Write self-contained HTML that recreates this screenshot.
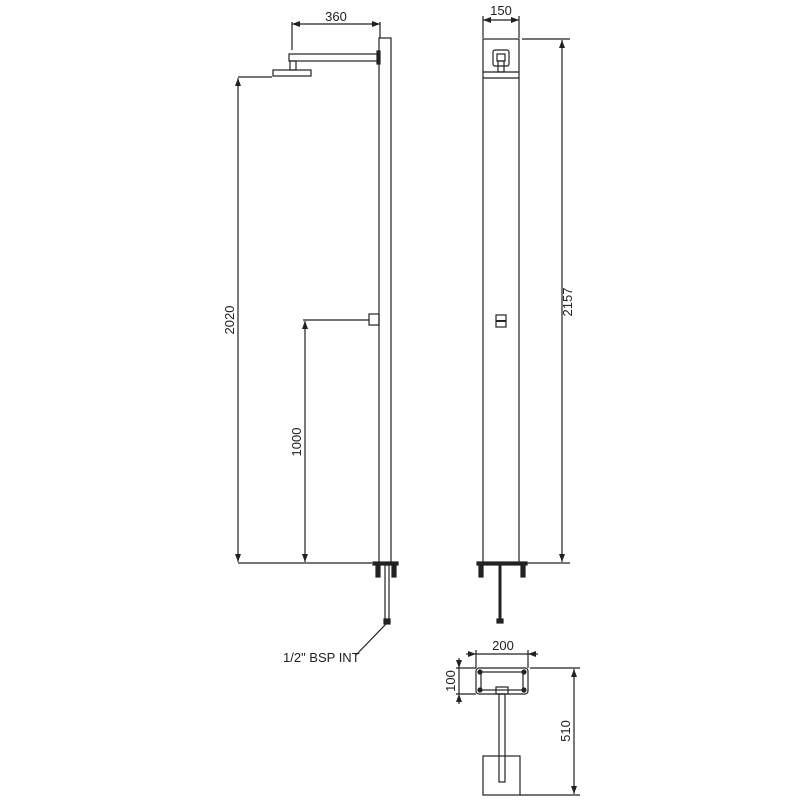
<!DOCTYPE html>
<html><head><style>body{margin:0;background:#fff}svg{display:block}text{font-family:"Liberation Sans",Arial,sans-serif;font-size:13px;fill:#222}</style></head>
<body>
<svg width="800" height="800" viewBox="0 0 800 800" xmlns="http://www.w3.org/2000/svg">
<defs>
<marker id="a" markerWidth="8" markerHeight="6" refX="8" refY="3" orient="auto-start-reverse" markerUnits="userSpaceOnUse"><path d="M0,0 L8,3 L0,6z" fill="#222"/></marker>
</defs>
<g stroke="#222" stroke-width="1.2" fill="none">
<!-- LEFT VIEW -->
<rect x="379" y="38" width="12" height="525"/>
<rect x="289" y="54" width="90" height="7"/>
<rect x="377" y="51" width="3" height="13" fill="#222"/>
<rect x="290" y="61" width="6" height="9"/>
<rect x="273" y="70" width="38" height="6"/>
<rect x="369" y="314" width="10" height="11"/>
<!-- 360 -->
<line x1="292" y1="22" x2="292" y2="50"/>
<line x1="380" y1="22" x2="380" y2="38"/>
<line x1="292" y1="24" x2="380" y2="24" marker-start="url(#a)" marker-end="url(#a)"/>
<!-- 2020 -->
<line x1="238" y1="77" x2="272" y2="77"/>
<line x1="238" y1="563" x2="372" y2="563"/>
<line x1="238" y1="78" x2="238" y2="562" marker-start="url(#a)" marker-end="url(#a)"/>
<!-- 1000 -->
<line x1="303" y1="320" x2="369" y2="320"/>
<line x1="305" y1="321" x2="305" y2="562" marker-start="url(#a)" marker-end="url(#a)"/>
<!-- base left -->
<rect x="373" y="562" width="25" height="3" fill="#222"/>
<rect x="376" y="565" width="4" height="12" fill="#222"/>
<rect x="392" y="565" width="4" height="12" fill="#222"/>
<rect x="385" y="565" width="4" height="55"/>
<rect x="384" y="619" width="6" height="5" fill="#222"/>
<line x1="386" y1="624" x2="356" y2="655"/>
<!-- RIGHT VIEW -->
<rect x="483" y="39" width="36" height="524"/>
<line x1="483" y1="72" x2="519" y2="72"/>
<line x1="483" y1="78" x2="519" y2="78"/>
<rect x="493" y="50" width="16" height="16" rx="2"/>
<rect x="497" y="54" width="8" height="7"/>
<rect x="498" y="61" width="6" height="11"/>
<rect x="496" y="315" width="10" height="12"/>
<line x1="496" y1="321" x2="506" y2="321" stroke-width="2"/>
<!-- 150 -->
<line x1="483" y1="16" x2="483" y2="38"/>
<line x1="519" y1="16" x2="519" y2="38"/>
<line x1="483" y1="20" x2="519" y2="20" marker-start="url(#a)" marker-end="url(#a)"/>
<!-- 2157 -->
<line x1="522" y1="39" x2="570" y2="39"/>
<line x1="526" y1="563" x2="570" y2="563"/>
<line x1="562" y1="40" x2="562" y2="562" marker-start="url(#a)" marker-end="url(#a)"/>
<!-- base right -->
<rect x="477" y="562" width="50" height="3" fill="#222"/>
<rect x="479" y="565" width="4" height="12" fill="#222"/>
<rect x="521" y="565" width="4" height="12" fill="#222"/>
<line x1="500" y1="565" x2="500" y2="620" stroke-width="3"/>
<rect x="497" y="619" width="6" height="4" fill="#222"/>
<!-- PLAN -->
<rect x="476" y="668" width="52" height="26" rx="3"/>
<rect x="481" y="672" width="42" height="18"/>
<circle cx="480" cy="672" r="2" fill="#222"/><circle cx="524" cy="672" r="2" fill="#222"/>
<circle cx="480" cy="690" r="2" fill="#222"/><circle cx="524" cy="690" r="2" fill="#222"/>
<rect x="496" y="687" width="12" height="7"/>
<rect x="499" y="694" width="6" height="88"/>
<rect x="483" y="756" width="37" height="39"/>
<!-- 200 -->
<line x1="476" y1="650" x2="476" y2="668"/>
<line x1="528" y1="650" x2="528" y2="668"/>
<line x1="466" y1="654" x2="476" y2="654" marker-end="url(#a)"/>
<line x1="538" y1="654" x2="528" y2="654" marker-end="url(#a)"/>
<line x1="476" y1="654" x2="528" y2="654"/>
<!-- 100 -->
<line x1="456" y1="668" x2="476" y2="668"/>
<line x1="456" y1="694" x2="476" y2="694"/>
<line x1="459" y1="658" x2="459" y2="668" marker-end="url(#a)"/>
<line x1="459" y1="704" x2="459" y2="694" marker-end="url(#a)"/>
<line x1="459" y1="668" x2="459" y2="694"/>
<!-- 510 -->
<line x1="530" y1="668" x2="580" y2="668"/>
<line x1="520" y1="795" x2="580" y2="795"/>
<line x1="574" y1="669" x2="574" y2="794" marker-start="url(#a)" marker-end="url(#a)"/>
</g>
<text x="336" y="21" text-anchor="middle">360</text>
<text x="501" y="15" text-anchor="middle">150</text>
<text transform="translate(234,320) rotate(-90)" text-anchor="middle">2020</text>
<text transform="translate(301,442) rotate(-90)" text-anchor="middle">1000</text>
<text transform="translate(572,302) rotate(-90)" text-anchor="middle">2157</text>
<text x="283" y="662">1/2" BSP INT</text>
<text x="503" y="650" text-anchor="middle">200</text>
<text transform="translate(455,681) rotate(-90)" text-anchor="middle">100</text>
<text transform="translate(570,731) rotate(-90)" text-anchor="middle">510</text>
</svg>
</body></html>
